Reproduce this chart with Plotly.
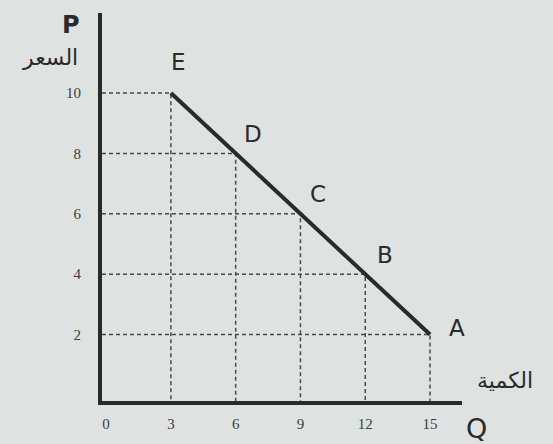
import plotly.graph_objects as go

# demand schedule points
points = ['E', 'D', 'C', 'B', 'A']
quantity = [3, 6, 9, 12, 15]
price = [10, 8, 6, 4, 2]

q_ticks = [0, 3, 6, 9, 12, 15]
p_ticks = [2, 4, 6, 8, 10]

ink = '#2a2a2a'
bg = '#dee3e1'
x_lo, x_hi = -0.19, 16.48
y_lo, y_hi = -0.2, 12.65

fig = go.Figure()

# dashed guide lines from each point back to both axes
for q, p in zip(quantity, price):
    fig.add_trace(go.Scatter(x=[x_lo, q, q], y=[p, p, y_lo], mode='lines',
                             line=dict(color='#4a4a4a', width=1.5, dash='4px,3px'),
                             hoverinfo='skip', showlegend=False))

# demand line
fig.add_trace(go.Scatter(x=quantity, y=price, mode='lines',
                         line=dict(color=ink, width=4), showlegend=False))

# point letters, nudged off the line
shifts = {'E': (8, 31), 'D': (17, 19), 'C': (18, 20), 'B': (20, 19), 'A': (27, 7)}
for name, q, p in zip(points, quantity, price):
    fig.add_annotation(x=q, y=p, text=name, showarrow=False, xanchor='center', yanchor='middle',
                       xshift=shifts[name][0], yshift=shifts[name][1],
                       font=dict(family='DejaVu Sans', size=23, color=ink))

fig.update_xaxes(range=[x_lo, x_hi], tickvals=q_ticks, ticktext=[str(t) for t in q_ticks],
                 showgrid=False, zeroline=False, showline=True, linewidth=4, linecolor=ink,
                 ticks='', automargin=False, ticklabelstandoff=6,
                 tickfont=dict(family='Liberation Serif', size=15, color='#3c3c3c'))
fig.update_yaxes(range=[y_lo, y_hi], tickvals=p_ticks, ticktext=[str(t) for t in p_ticks],
                 showgrid=False, zeroline=False, showline=True, linewidth=4, linecolor=ink,
                 ticks='', ticklabelstandoff=14, automargin=False,
                 tickfont=dict(family='Liberation Serif', size=15, color='#3c3c3c'))

# axis names
def corner(text, x, y, dx, dy, size, fam='DejaVu Sans'):
    fig.add_annotation(text=text, x=x, y=y, xref='paper', yref='paper', xanchor='center',
                       yanchor='middle', xshift=dx, yshift=dy, showarrow=False,
                       font=dict(family=fam, size=size, color=ink))

corner('<b>P</b>', 0, 1, -31, -12, 24)
corner('السعر', 0, 1, -52, -44, 22)
corner('الكمية', 1, 0, 43, 21, 22)
corner('Q', 1, 0, 14, -27, 27)

fig.update_layout(width=553, height=444, margin=dict(l=102, r=91, t=13, b=43),
                  paper_bgcolor=bg, plot_bgcolor=bg)

fig.write_html('out.html', config={'displayModeBar': False},
               post_script="document.body.style.margin='0';")
